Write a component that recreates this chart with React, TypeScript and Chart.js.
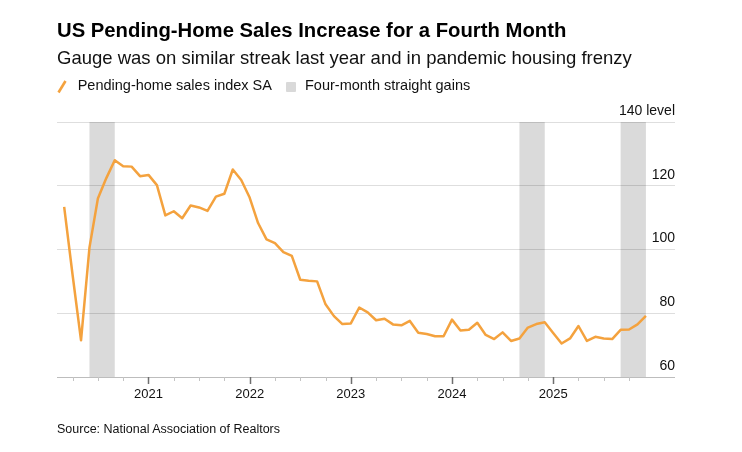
import React, { useEffect, useRef } from "react";
import { Chart, registerables } from "chart.js";

Chart.register(...registerables);

// ---- Data ----
const months: string[] = [
  "2020-02", "2020-03", "2020-04", "2020-05", "2020-06", "2020-07", "2020-08", "2020-09", "2020-10", "2020-11", "2020-12",
  "2021-01", "2021-02", "2021-03", "2021-04", "2021-05", "2021-06", "2021-07", "2021-08", "2021-09", "2021-10", "2021-11", "2021-12",
  "2022-01", "2022-02", "2022-03", "2022-04", "2022-05", "2022-06", "2022-07", "2022-08", "2022-09", "2022-10", "2022-11", "2022-12",
  "2023-01", "2023-02", "2023-03", "2023-04", "2023-05", "2023-06", "2023-07", "2023-08", "2023-09", "2023-10", "2023-11", "2023-12",
  "2024-01", "2024-02", "2024-03", "2024-04", "2024-05", "2024-06", "2024-07", "2024-08", "2024-09", "2024-10", "2024-11", "2024-12",
  "2025-01", "2025-02", "2025-03", "2025-04", "2025-05", "2025-06", "2025-07", "2025-08", "2025-09", "2025-10", "2025-11",
];

const pendingSales: number[] = [
  113.4, 92.0, 71.5, 100.6, 116.0, 122.4, 128.0, 126.1, 126.0, 123.0, 123.4,
  120.2, 110.7, 112.0, 109.8, 113.8, 113.2, 112.1, 116.6, 117.5, 125.1, 121.8, 116.3,
  108.3, 103.2, 102.0, 99.2, 98.0, 90.5, 90.2, 90.0, 82.8, 79.1, 76.6, 76.8,
  81.8, 80.3, 77.8, 78.3, 76.5, 76.2, 77.6, 73.9, 73.5, 72.8, 72.8, 78.0,
  74.6, 74.8, 77.0, 73.2, 71.9, 74.0, 71.3, 72.1, 75.5, 76.6, 77.2, 73.8,
  70.5, 72.1, 76.0, 71.3, 72.6, 72.1, 71.9, 74.8, 74.9, 76.5, 79.2,
];

// Four-month straight gains (first and last month of each streak)
const streakStarts: string[] = ["2020-05", "2024-08", "2025-08"];
const streakEnds: string[] = ["2020-08", "2024-11", "2025-11"];

const yearLabels: string[] = ["2021", "2022", "2023", "2024", "2025"];
const yTickValues: number[] = [60, 80, 100, 120, 140];

const TITLE = "US Pending-Home Sales Increase for a Fourth Month";
const SUBTITLE = "Gauge was on similar streak last year and in pandemic housing frenzy";
const SERIES_NAME = "Pending-home sales index SA";
const SHADE_NAME = "Four-month straight gains";
const SOURCE = "Source: National Association of Realtors";

// ---- Styles ----
const ORANGE = "#F4A23E";
const SHADE = "#dadada";
const FONT = "'Liberation Sans', Arial, Helvetica, sans-serif";

// month-end position, in months since the start of 2020
const monthPos = (m: string): number => {
  const [y, mo] = m.split("-").map(Number);
  return (y - 2020) * 12 + mo;
};
const yearPos = (label: string): number => (Number(label) - 2020) * 12;

export default function App() {
  const canvasRef = useRef<HTMLCanvasElement | null>(null);

  useEffect(() => {
    if (!canvasRef.current) return;

    const shadePlugin = {
      id: "streakShade",
      beforeDraw(chart: any) {
        const { ctx, chartArea, scales } = chart;
        const xs = scales.x;
        ctx.save();
        ctx.fillStyle = SHADE;
        streakStarts.forEach((s, i) => {
          const x1 = xs.getPixelForValue(monthPos(s));
          const x2 = xs.getPixelForValue(monthPos(streakEnds[i]));
          ctx.fillRect(x1, chartArea.top, x2 - x1, chartArea.bottom - chartArea.top);
        });
        ctx.restore();
      },
    };

    const tickPlugin = {
      id: "xTickMarks",
      afterDraw(chart: any) {
        const { ctx, chartArea, scales } = chart;
        const xs = scales.x;
        ctx.save();
        xs.ticks.forEach((t: any) => {
          const px = Math.round(xs.getPixelForValue(t.value)) + 0.5;
          const major = yearLabels.some((y) => yearPos(y) === t.value);
          ctx.strokeStyle = major ? "#6e6e6e" : "#c4c4c4";
          ctx.lineWidth = major ? 1.5 : 1;
          ctx.beginPath();
          ctx.moveTo(px, chartArea.bottom);
          ctx.lineTo(px, chartArea.bottom + (major ? 7 : 4));
          ctx.stroke();
        });
        ctx.restore();
      },
    };

    const quarterTicks: number[] = [];
    for (let v = 3; v <= 69; v += 3) quarterTicks.push(v);

    const chart = new Chart(canvasRef.current, {
      type: "line",
      data: {
        datasets: [
          {
            label: SERIES_NAME,
            data: months.map((m, i) => ({ x: monthPos(m), y: pendingSales[i] })),
            borderColor: ORANGE,
            backgroundColor: ORANGE,
            borderWidth: 2.5,
            borderJoinStyle: "round",
            pointRadius: 0,
            tension: 0,
          },
        ],
      },
      options: {
        responsive: false,
        animation: false,
        layout: { padding: { left: 49, right: 59, top: 114, bottom: 37 } },
        plugins: {
          legend: { display: false },
          tooltip: { enabled: false },
        },
        scales: {
          x: {
            type: "linear",
            min: 1.15,
            max: 74.45,
            afterBuildTicks: (s: any) => {
              s.ticks = quarterTicks.map((v) => ({ value: v }));
            },
            afterFit: (s: any) => {
              s.height = 30;
            },
            ticks: {
              autoSkip: false,
              maxRotation: 0,
              minRotation: 0,
              padding: 10,
              color: "#111",
              font: { family: FONT, size: 13 },
              callback: (v: any) => {
                const found = yearLabels.find((y) => yearPos(y) === v);
                return found ?? "";
              },
            },
            grid: { drawOnChartArea: false, drawTicks: false },
            border: { display: false },
          },
          y: {
            position: "right",
            min: 60,
            max: 140,
            afterBuildTicks: (s: any) => {
              s.ticks = yTickValues.map((v) => ({ value: v }));
            },
            ticks: {
              mirror: true,
              padding: 0,
              labelOffset: -11,
              color: "#111",
              font: { family: FONT, size: 14 },
              callback: (v: any) => (v === 140 ? "140 level" : String(v)),
            },
            grid: {
              drawTicks: false,
              lineWidth: 1,
              color: (c: any) => (c.tick && c.tick.value === 60 ? "#bdbdbd" : "rgba(0,0,0,0.13)"),
            },
            border: { display: false },
          },
        },
      },
      plugins: [shadePlugin, tickPlugin],
    } as any);

    return () => chart.destroy();
  }, []);

  const abs = (left: number, top: number, extra: React.CSSProperties = {}): React.CSSProperties => ({
    position: "absolute",
    left,
    top,
    whiteSpace: "nowrap",
    fontFamily: FONT,
    color: "#000",
    lineHeight: 1,
    margin: 0,
    ...extra,
  });

  return (
    <div style={{ position: "relative", width: 726, height: 436, overflow: "hidden" }}>
      <canvas ref={canvasRef} width={726} height={436} style={{ position: "absolute", left: 0, top: 0 }} />
      <div style={abs(49, 12.1, { fontSize: 20.3, fontWeight: 700 })}>{TITLE}</div>
      <div style={abs(49, 41.3, { fontSize: 18.5, color: "#111" })}>{SUBTITLE}</div>
      <svg style={{ position: "absolute", left: 49, top: 72 }} width={11} height={14}>
        <line x1={1.5} y1={12.5} x2={8.5} y2={1} stroke={ORANGE} strokeWidth={2.6} />
      </svg>
      <div style={abs(69.7, 69.7, { fontSize: 14.5, color: "#111" })}>{SERIES_NAME}</div>
      <div style={{ position: "absolute", left: 278, top: 74, width: 10, height: 10, background: "#d9d9d9", borderRadius: 1 }} />
      <div style={abs(297, 69.7, { fontSize: 14.5, color: "#111" })}>{SHADE_NAME}</div>
      <div style={abs(49, 415.4, { fontSize: 12.5, color: "#111" })}>{SOURCE}</div>
    </div>
  );
}
